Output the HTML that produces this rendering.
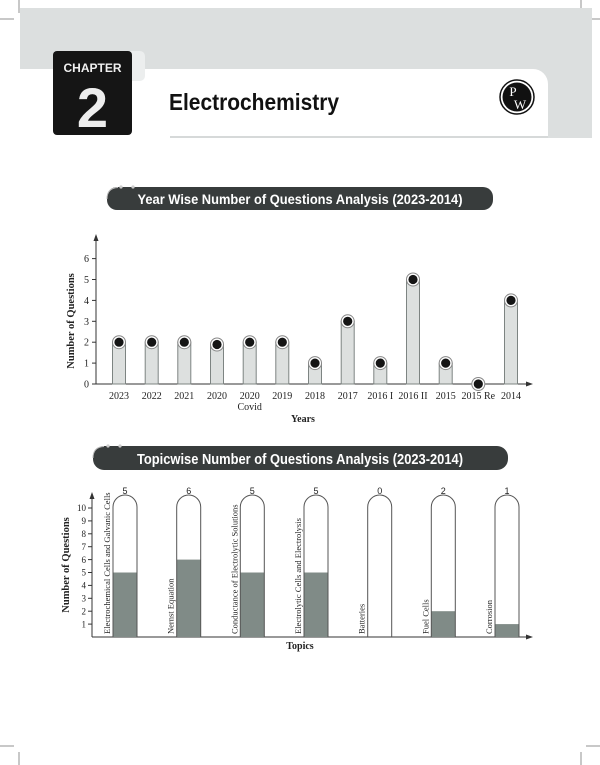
<!DOCTYPE html>
<html><head><meta charset="utf-8"><style>
html,body{margin:0;padding:0;background:#fff;}
svg{display:block;}
</style></head><body>
<svg width="600" height="765" viewBox="0 0 600 765" xmlns="http://www.w3.org/2000/svg">
<g stroke="#777" stroke-width="0.8">
<line x1="19" y1="0" x2="19" y2="13"/><line x1="0" y1="19" x2="14" y2="19"/>
<line x1="581" y1="0" x2="581" y2="13"/><line x1="586" y1="19" x2="600" y2="19"/>
<line x1="19" y1="752" x2="19" y2="765"/><line x1="0" y1="746" x2="14" y2="746"/>
<line x1="581" y1="752" x2="581" y2="765"/><line x1="586" y1="746" x2="600" y2="746"/>
</g>
<rect x="20" y="8" width="572" height="130" fill="#dcdfdf"/>
<path d="M20 69 H533 A15 15 0 0 1 548 84 V138 H20 Z" fill="#fff"/>
<line x1="170" y1="137" x2="548" y2="137" stroke="#d6d9d9" stroke-width="2"/>
<rect x="125" y="51" width="20" height="30" rx="5" fill="#eceeee"/>
<rect x="53" y="51" width="79" height="84" rx="4" fill="#151515"/>
<text x="92.5" y="72" font-family="Liberation Sans, sans-serif" font-weight="bold" font-size="12" fill="#f0f0f0" text-anchor="middle">CHAPTER</text>
<text x="92.5" y="127" font-family="Liberation Sans, sans-serif" font-weight="bold" font-size="56" fill="#eeeeee" text-anchor="middle">2</text>
<text x="169" y="110" font-family="Liberation Sans, sans-serif" font-weight="bold" font-size="23" fill="#111" textLength="170" lengthAdjust="spacingAndGlyphs">Electrochemistry</text>
<circle cx="517" cy="97" r="17" fill="#fff" stroke="#111" stroke-width="1.5"/>
<circle cx="517" cy="97" r="14.5" fill="#111"/>
<text x="513" y="96" font-family="Liberation Serif, serif" font-size="13" fill="#fff" text-anchor="middle">P</text>
<text x="520" y="109" font-family="Liberation Serif, serif" font-size="13" fill="#fff" text-anchor="middle">W</text>

<rect x="107" y="187" width="386" height="23" rx="10" fill="#383c3c"/>
<path d="M118 187.5 Q107 188 107 199" stroke="#bbb" fill="none"/>
<circle cx="121" cy="187" r="1.6" fill="#ccc"/><circle cx="133" cy="187" r="1.6" fill="#ccc"/>
<text x="300" y="204" font-family="Liberation Sans, sans-serif" font-weight="bold" font-size="14" fill="#fff" text-anchor="middle" textLength="325" lengthAdjust="spacingAndGlyphs">Year Wise Number of Questions Analysis (2023-2014)</text>

<g font-family="Liberation Serif, serif" font-size="10" fill="#222">
<line x1="96" y1="384" x2="96" y2="238" stroke="#333" stroke-width="1"/>
<path d="M96 234 L93.5 241 L98.5 241 Z" fill="#333"/>
<line x1="96" y1="384" x2="529" y2="384" stroke="#333" stroke-width="1"/>
<path d="M533 384 L526 381.5 L526 386.5 Z" fill="#333"/>
<g stroke="#333">
<line x1="92" y1="384" x2="96" y2="384"/><line x1="92" y1="363.1" x2="96" y2="363.1"/><line x1="92" y1="342.2" x2="96" y2="342.2"/><line x1="92" y1="321.3" x2="96" y2="321.3"/><line x1="92" y1="300.4" x2="96" y2="300.4"/><line x1="92" y1="279.5" x2="96" y2="279.5"/><line x1="92" y1="258.6" x2="96" y2="258.6"/>
</g>
<g text-anchor="end">
<text x="89" y="387.5">0</text><text x="89" y="366.6">1</text><text x="89" y="345.7">2</text><text x="89" y="324.8">3</text><text x="89" y="303.9">4</text><text x="89" y="283">5</text><text x="89" y="262.1">6</text>
</g>
<text transform="translate(74,321) rotate(-90)" text-anchor="middle" font-weight="bold" font-size="10.5">Number of Questions</text>
<g fill="#dde0df" stroke="#7d8482" stroke-width="1">
<rect x="112.5" y="342.2" width="13" height="41.8"/>
<rect x="145.2" y="342.2" width="13" height="41.8"/>
<rect x="177.8" y="342.2" width="13" height="41.8"/>
<rect x="210.5" y="344.5" width="13" height="39.5"/>
<rect x="243.2" y="342.2" width="13" height="41.8"/>
<rect x="275.8" y="342.2" width="13" height="41.8"/>
<rect x="308.5" y="363.1" width="13" height="20.9"/>
<rect x="341.2" y="321.3" width="13" height="62.7"/>
<rect x="373.8" y="363.1" width="13" height="20.9"/>
<rect x="406.5" y="279.5" width="13" height="104.5"/>
<rect x="439.2" y="363.1" width="13" height="20.9"/>
<rect x="504.5" y="300.4" width="13" height="83.6"/>
</g>
<g fill="#fff" stroke="#888" stroke-width="1">
<circle cx="119" cy="342.2" r="6.5"/><circle cx="151.7" cy="342.2" r="6.5"/><circle cx="184.3" cy="342.2" r="6.5"/><circle cx="217" cy="344.5" r="6.5"/><circle cx="249.7" cy="342.2" r="6.5"/><circle cx="282.3" cy="342.2" r="6.5"/><circle cx="315" cy="363.1" r="6.5"/><circle cx="347.7" cy="321.3" r="6.5"/><circle cx="380.3" cy="363.1" r="6.5"/><circle cx="413" cy="279.5" r="6.5"/><circle cx="445.7" cy="363.1" r="6.5"/><circle cx="478.3" cy="384" r="6.5"/><circle cx="511" cy="300.4" r="6.5"/>
</g>
<g fill="#151515">
<circle cx="119" cy="342.2" r="4.6"/><circle cx="151.7" cy="342.2" r="4.6"/><circle cx="184.3" cy="342.2" r="4.6"/><circle cx="217" cy="344.5" r="4.6"/><circle cx="249.7" cy="342.2" r="4.6"/><circle cx="282.3" cy="342.2" r="4.6"/><circle cx="315" cy="363.1" r="4.6"/><circle cx="347.7" cy="321.3" r="4.6"/><circle cx="380.3" cy="363.1" r="4.6"/><circle cx="413" cy="279.5" r="4.6"/><circle cx="445.7" cy="363.1" r="4.6"/><circle cx="478.3" cy="384" r="4.6"/><circle cx="511" cy="300.4" r="4.6"/>
</g>
<g text-anchor="middle">
<text x="119" y="399">2023</text><text x="151.7" y="399">2022</text><text x="184.3" y="399">2021</text><text x="217" y="399">2020</text><text x="249.7" y="399">2020</text><text x="249.7" y="410">Covid</text><text x="282.3" y="399">2019</text><text x="315" y="399">2018</text><text x="347.7" y="399">2017</text><text x="380.3" y="399">2016 I</text><text x="413" y="399">2016 II</text><text x="445.7" y="399">2015</text><text x="478.3" y="399">2015 Re</text><text x="511" y="399">2014</text>
<text x="303" y="422" font-weight="bold">Years</text>
</g>
</g>

<rect x="93" y="446" width="415" height="24" rx="11" fill="#383c3c"/>
<path d="M104 446.5 Q93 447 93 458" stroke="#bbb" fill="none"/>
<circle cx="108" cy="446" r="1.6" fill="#ccc"/><circle cx="120" cy="446" r="1.6" fill="#ccc"/>
<text x="300" y="464" font-family="Liberation Sans, sans-serif" font-weight="bold" font-size="14.5" fill="#fff" text-anchor="middle" textLength="326" lengthAdjust="spacingAndGlyphs">Topicwise Number of Questions Analysis (2023-2014)</text>

<g font-family="Liberation Serif, serif" font-size="9" fill="#222">
<line x1="92" y1="637" x2="92" y2="496" stroke="#333"/>
<path d="M92 492 L89.5 499 L94.5 499 Z" fill="#333"/>
<line x1="92" y1="637" x2="529" y2="637" stroke="#333"/>
<path d="M533 637 L526 634.5 L526 639.5 Z" fill="#333"/>
<g stroke="#333">
<line x1="88" y1="624.1" x2="92" y2="624.1"/><line x1="88" y1="611.2" x2="92" y2="611.2"/><line x1="88" y1="598.3" x2="92" y2="598.3"/><line x1="88" y1="585.4" x2="92" y2="585.4"/><line x1="88" y1="572.5" x2="92" y2="572.5"/><line x1="88" y1="559.6" x2="92" y2="559.6"/><line x1="88" y1="546.7" x2="92" y2="546.7"/><line x1="88" y1="533.8" x2="92" y2="533.8"/><line x1="88" y1="520.9" x2="92" y2="520.9"/><line x1="88" y1="508" x2="92" y2="508"/>
</g>
<g text-anchor="end">
<text x="86" y="627.3">1</text><text x="86" y="614.4">2</text><text x="86" y="601.5">3</text><text x="86" y="588.6">4</text><text x="86" y="575.7">5</text><text x="86" y="562.8">6</text><text x="86" y="549.9">7</text><text x="86" y="537">8</text><text x="86" y="524.1">9</text><text x="86" y="511.2">10</text>
</g>
<text transform="translate(69,565) rotate(-90)" text-anchor="middle" font-weight="bold" font-size="10.5">Number of Questions</text>
<g fill="#808b87">
<rect x="113" y="572.5" width="24" height="64.5"/>
<rect x="176.7" y="559.6" width="24" height="77.4"/>
<rect x="240.3" y="572.5" width="24" height="64.5"/>
<rect x="304" y="572.5" width="24" height="64.5"/>
<rect x="431.3" y="611.2" width="24" height="25.8"/>
<rect x="495" y="624.1" width="24" height="12.9"/>
</g>
<g fill="none" stroke="#555" stroke-width="1">
<path d="M113 637 V507 A12 12 0 0 1 137 507 V637"/>
<path d="M176.7 637 V507 A12 12 0 0 1 200.7 507 V637"/>
<path d="M240.3 637 V507 A12 12 0 0 1 264.3 507 V637"/>
<path d="M304 637 V507 A12 12 0 0 1 328 507 V637"/>
<path d="M367.7 637 V507 A12 12 0 0 1 391.7 507 V637"/>
<path d="M431.3 637 V507 A12 12 0 0 1 455.3 507 V637"/>
<path d="M495 637 V507 A12 12 0 0 1 519 507 V637"/>
</g>
<g font-family="Liberation Sans, sans-serif" font-size="9" text-anchor="middle">
<text x="125" y="494">5</text><text x="188.7" y="494">6</text><text x="252.3" y="494">5</text><text x="316" y="494">5</text><text x="379.7" y="494">0</text><text x="443.3" y="494">2</text><text x="507" y="494">1</text>
</g>
<g font-size="8.5">
<text transform="translate(110,634) rotate(-90)">Electrochemical Cells and Galvanic Cells</text>
<text transform="translate(173.7,634) rotate(-90)">Nernst Equation</text>
<text transform="translate(237.3,634) rotate(-90)">Conductance of Electrolytic Solutions</text>
<text transform="translate(301,634) rotate(-90)">Electrolytic Cells and Electrolysis</text>
<text transform="translate(364.7,634) rotate(-90)">Batteries</text>
<text transform="translate(428.3,634) rotate(-90)">Fuel Cells</text>
<text transform="translate(492,634) rotate(-90)">Corrosion</text>
</g>
<text x="300" y="649" text-anchor="middle" font-weight="bold" font-size="10">Topics</text>
</g>
</svg>
</body></html>
